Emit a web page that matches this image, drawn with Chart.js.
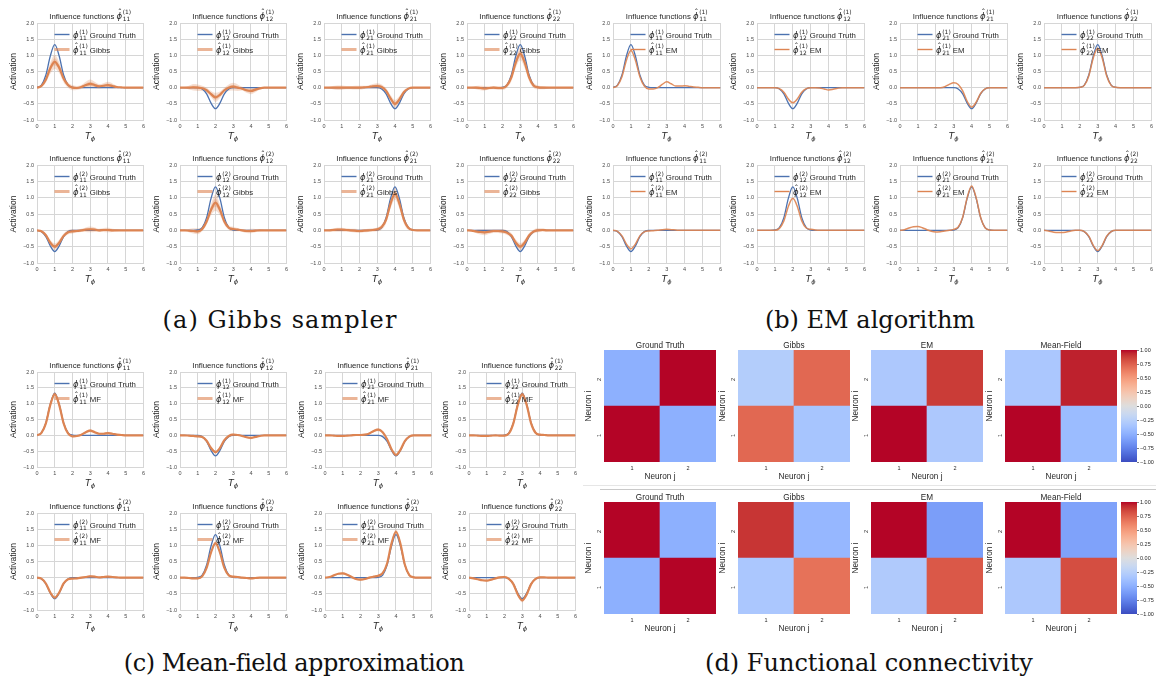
<!DOCTYPE html>
<html>
<head>
<meta charset="utf-8">
<title>Influence functions and functional connectivity</title>
<script src="https://cdn.jsdelivr.net/npm/chart.js@4.4.1/dist/chart.umd.min.js"></script>
<style>
  html, body { margin: 0; padding: 0; background: #fff; }
  body { position: relative; width: 1156px; height: 681px; overflow: hidden; }
  canvas { position: absolute; }
  .caption { position: absolute; font-family: "DejaVu Serif", serif; font-size: 24px; color: #111;
             white-space: nowrap; transform: translate(-50%, -50%); }
  .rule { position: absolute; height: 1px; }
</style>
</head>
<body>
<div class="caption" style="left:280px; top:320px; letter-spacing:1.1px">(a) Gibbs sampler</div>
<div class="caption" style="left:870px; top:320px">(b) EM algorithm</div>
<div class="caption" style="left:294px; top:663px; letter-spacing:-0.5px">(c) Mean-field approximation</div>
<div class="caption" style="left:869px; top:663px">(d) Functional connectivity</div>
<div class="rule" style="left:583px; top:485px; width:573px; background:#e6e6e6"></div>
<div class="rule" style="left:600px; top:489px; width:556px; background:#c9c9c9"></div>
<script>
// ---------- grids and ticks ----------
const tGrid = [0, 0.25, 0.5, 0.75, 1, 1.25, 1.5, 1.75, 2, 2.25, 2.5, 2.75, 3, 3.25, 3.5, 3.75, 4, 4.25, 4.5, 4.75, 5, 5.25, 5.5, 5.75, 6];
const xTicks = [0, 1, 2, 3, 4, 5, 6];
const yTicks = [-1, -0.5, 0, 0.5, 1, 1.5, 2];
const barTicks = [-1, -0.75, -0.5, -0.25, 0, 0.25, 0.5, 0.75, 1];
const neuronLabels = ['1', '2'];
const kernelIdx = ['11', '12', '21', '22'];

// ---------- ground-truth influence functions (neuron 1, neuron 2) ----------
const truth_1_11 = [0.01,0.08,0.39,0.98,1.33, 0.98,0.39,0.08,0.01,0, 0,0,0,0,0, 0,0,0,0,0, 0,0,0,0,0];
const truth_1_12 = [0,0,0,0,0, -0.04,-0.19,-0.48,-0.65,-0.48, -0.19,-0.04,0,0,0, 0,0,0,0,0, 0,0,0,0,0];
const truth_1_21 = [0,0,0,0,0, 0,0,0,0,0, 0,0,0,-0.04,-0.19, -0.48,-0.65,-0.48,-0.19,-0.04, 0,0,0,0,0];
const truth_1_22 = [0,0,0,0,0, 0,0,0,0.01,0.08, 0.39,0.98,1.33,0.98,0.39, 0.08,0.01,0,0,0, 0,0,0,0,0];
const truth_2_11 = [0,-0.04,-0.19,-0.48,-0.65, -0.48,-0.19,-0.04,0,0, 0,0,0,0,0, 0,0,0,0,0, 0,0,0,0,0];
const truth_2_12 = [0,0,0,0,0.01, 0.08,0.39,0.98,1.33,0.98, 0.39,0.08,0.01,0,0, 0,0,0,0,0, 0,0,0,0,0];
const truth_2_21 = [0,0,0,0,0, 0,0,0,0,0, 0,0,0.01,0.08,0.39, 0.98,1.33,0.98,0.39,0.08, 0.01,0,0,0,0];
const truth_2_22 = [0,0,0,0,0, 0,0,0,0,-0.04, -0.19,-0.48,-0.65,-0.48,-0.19, -0.04,0,0,0,0, 0,0,0,0,0];

// ---------- Gibbs sampler: posterior mean and spread of samples ----------
const gibbs_1_11   = [0,0.05,0.25,0.6,0.8, 0.62,0.28,0.08,0,-0.01, 0.02,0.08,0.12,0.08,0.04, 0.06,0.08,0.05,0.02,0.01, 0,0,0,0,0];
const gibbsSd_1_11 = [0,0.03,0.1,0.17,0.22, 0.17,0.12,0.08,0.08,0.06, 0.06,0.1,0.13,0.1,0.07, 0.08,0.1,0.08,0.04,0.01, 0,0,0,0,0];
const gibbs_1_12   = [0,0,0,0.01,0, -0.02,-0.08,-0.2,-0.3,-0.22, -0.08,0,0.03,0,-0.03, -0.08,-0.1,-0.06,-0.02,0, 0,0,0,0,0];
const gibbsSd_1_12 = [0,0.02,0.06,0.1,0.1, 0.08,0.08,0.1,0.14,0.1, 0.08,0.1,0.12,0.1,0.06, 0.08,0.1,0.08,0.04,0.01, 0,0,0,0,0];
const gibbs_1_21   = [0,0,0,0,0, 0,0,0,0,0.01, 0.02,0.04,0.05,0.02,-0.1, -0.33,-0.5,-0.36,-0.14,-0.03, 0,0,0,0,0];
const gibbsSd_1_21 = [0,0.02,0.05,0.07,0.07, 0.05,0.05,0.06,0.06,0.05, 0.05,0.07,0.09,0.08,0.08, 0.1,0.12,0.1,0.07,0.02, 0,0,0,0,0];
const gibbs_1_22   = [0,0,0,-0.01,-0.02, -0.01,0,-0.01,-0.01,0.07, 0.32,0.78,1.05,0.78,0.32, 0.07,0.01,0,0,0, 0,0,0,0,0];
const gibbsSd_1_22 = [0,0.02,0.05,0.07,0.07, 0.05,0.05,0.06,0.06,0.07, 0.12,0.17,0.2,0.17,0.12, 0.08,0.06,0.05,0.03,0.01, 0,0,0,0,0];
const gibbs_2_11   = [0,-0.03,-0.15,-0.38,-0.5, -0.38,-0.17,-0.06,-0.03,-0.02, 0,0.02,0.03,0.02,0, 0.01,0.01,0,0,0, 0,0,0,0,0];
const gibbsSd_2_11 = [0,0.02,0.06,0.09,0.1, 0.09,0.07,0.07,0.07,0.05, 0.05,0.07,0.09,0.07,0.05, 0.06,0.07,0.05,0.03,0.01, 0,0,0,0,0];
const gibbs_2_12   = [0,0,-0.01,-0.02,-0.03, 0.04,0.27,0.63,0.85,0.63, 0.27,0.08,0.04,0.02,0, -0.02,-0.02,-0.01,0,0, 0,0,0,0,0];
const gibbsSd_2_12 = [0,0.02,0.05,0.08,0.09, 0.07,0.1,0.17,0.25,0.17, 0.1,0.07,0.07,0.05,0.04, 0.06,0.07,0.05,0.03,0.01, 0,0,0,0,0];
const gibbs_2_21   = [0,0,0.01,0.02,0.02, 0.01,0,-0.01,-0.02,-0.01, 0,0.01,0.03,0.1,0.33, 0.82,1.12,0.82,0.33,0.08, 0.01,0,0,0,0];
const gibbsSd_2_21 = [0,0.02,0.05,0.06,0.06, 0.05,0.05,0.06,0.06,0.05, 0.05,0.05,0.06,0.08,0.12, 0.16,0.18,0.16,0.12,0.06, 0.01,0,0,0,0];
const gibbs_2_22   = [0,-0.01,-0.03,-0.05,-0.06, -0.04,-0.02,-0.02,-0.03,-0.07, -0.16,-0.38,-0.5,-0.38,-0.16, -0.04,0,0.01,0,0, 0,0,0,0,0];
const gibbsSd_2_22 = [0,0.02,0.05,0.08,0.09, 0.07,0.06,0.06,0.07,0.07, 0.08,0.1,0.11,0.1,0.08, 0.06,0.06,0.05,0.03,0.01, 0,0,0,0,0];

// ---------- EM point estimates ----------
const em_1_11 = [0,0.07,0.34,0.85,1.15, 0.85,0.34,0.05,-0.04,-0.04, 0,0.1,0.18,0.12,0.05, 0.05,0.06,0.04,0.02,0.01, 0,0,0,0,0];
const em_1_12 = [0,0,0,0,0, -0.03,-0.14,-0.35,-0.47,-0.35, -0.14,-0.03,0,0,-0.01, -0.04,-0.07,-0.05,-0.02,0, 0,0,0,0,0];
const em_1_21 = [0,0,0,0,0, 0,0,0,0,0, 0.03,0.1,0.15,0.1,-0.1, -0.42,-0.6,-0.45,-0.18,-0.04, 0,0,0,0,0];
const em_1_22 = [0,0,0,0,0, 0,0,0,0.01,0.07, 0.36,0.92,1.22,0.92,0.36, 0.07,0.01,0,0,0, 0,0,0,0,0];
const em_2_11 = [0,-0.03,-0.17,-0.42,-0.57, -0.42,-0.17,-0.05,-0.02,-0.01, 0,0.02,0.03,0.02,0.01, 0,0,0,0,0, 0,0,0,0,0];
const em_2_12 = [0,0,0,0,0, 0.06,0.29,0.73,0.98,0.73, 0.29,0.07,0.03,0.01,0, 0,0,0,0,0, 0,0,0,0,0];
const em_2_21 = [0,0.02,0.07,0.11,0.12, 0.08,0.02,-0.03,-0.05,-0.04, -0.02,0,0.03,0.1,0.4, 1,1.36,1,0.4,0.08, 0.01,0,0,0,0];
const em_2_22 = [0,-0.02,-0.05,-0.07,-0.07, -0.05,-0.02,0,0,-0.04, -0.18,-0.46,-0.62,-0.46,-0.18, -0.04,0,0,0,0, 0,0,0,0,0];

// ---------- mean-field: variational mean and spread ----------
const mf_1_11   = [0,0.08,0.38,0.96,1.3, 0.96,0.38,0.06,-0.03,-0.02, 0.02,0.1,0.15,0.1,0.05, 0.05,0.07,0.05,0.02,0.01, 0,0,0,0,0];
const mfSd_1_11 = [0,0.01,0.03,0.05,0.07, 0.05,0.04,0.04,0.04,0.03, 0.03,0.04,0.05,0.04,0.03, 0.03,0.04,0.03,0.02,0.01, 0,0,0,0,0];
const mf_1_12   = [0,0,-0.01,-0.02,-0.03, -0.05,-0.17,-0.4,-0.53,-0.4, -0.15,-0.02,0.02,0.01,-0.02, -0.06,-0.08,-0.05,-0.02,0, 0,0,0,0,0];
const mfSd_1_12 = [0,0.01,0.02,0.03,0.04, 0.03,0.03,0.04,0.05,0.04, 0.03,0.03,0.04,0.03,0.02, 0.03,0.04,0.03,0.02,0.01, 0,0,0,0,0];
const mf_1_21   = [0,0,-0.01,-0.02,-0.02, -0.01,0,0.01,0.01,0.02, 0.06,0.14,0.18,0.1,-0.12, -0.44,-0.62,-0.46,-0.18,-0.04, 0,0,0,0,0];
const mfSd_1_21 = [0,0.01,0.02,0.03,0.03, 0.02,0.02,0.02,0.03,0.03, 0.03,0.04,0.05,0.04,0.04, 0.04,0.05,0.04,0.03,0.01, 0,0,0,0,0];
const mf_1_22   = [0,0,-0.01,-0.02,-0.02, -0.01,0,-0.01,-0.01,0.06, 0.38,0.96,1.3,0.96,0.38, 0.08,0.02,0.01,0,0, 0,0,0,0,0];
const mfSd_1_22 = [0,0.01,0.02,0.03,0.03, 0.02,0.02,0.02,0.03,0.03, 0.04,0.05,0.07,0.05,0.04, 0.03,0.03,0.02,0.01,0.01, 0,0,0,0,0];
const mf_2_11   = [0,-0.03,-0.18,-0.46,-0.62, -0.46,-0.18,-0.05,-0.03,-0.02, 0,0.02,0.04,0.03,0.01, 0.02,0.03,0.02,0.01,0, 0,0,0,0,0];
const mfSd_2_11 = [0,0.01,0.02,0.04,0.05, 0.04,0.03,0.03,0.03,0.03, 0.03,0.03,0.04,0.03,0.02, 0.03,0.03,0.02,0.01,0.01, 0,0,0,0,0];
const mf_2_12   = [0,0,-0.01,-0.02,-0.02, 0.04,0.3,0.78,1.07,0.78, 0.3,0.07,0.03,0.02,0, -0.01,-0.02,-0.01,0,0, 0,0,0,0,0];
const mfSd_2_12 = [0,0.01,0.02,0.03,0.03, 0.02,0.03,0.05,0.06,0.05, 0.03,0.03,0.03,0.03,0.02, 0.02,0.03,0.02,0.01,0.01, 0,0,0,0,0];
const mf_2_21   = [0,0.02,0.07,0.12,0.13, 0.09,0.02,-0.04,-0.06,-0.04, 0,0.03,0.06,0.14,0.44, 1.06,1.42,1.05,0.4,0.08, 0.01,0,0,0,0];
const mfSd_2_21 = [0,0.01,0.02,0.03,0.04, 0.03,0.03,0.03,0.04,0.03, 0.03,0.03,0.04,0.05,0.05, 0.06,0.08,0.06,0.05,0.02, 0,0,0,0,0];
const mf_2_22   = [0,-0.02,-0.05,-0.08,-0.09, -0.06,-0.02,0.01,0.02,-0.04, -0.2,-0.52,-0.7,-0.52,-0.2, -0.04,0.01,0.01,0,0, 0,0,0,0,0];
const mfSd_2_22 = [0,0.01,0.02,0.03,0.04, 0.03,0.03,0.03,0.04,0.03, 0.03,0.05,0.07,0.05,0.03, 0.03,0.03,0.02,0.01,0.01, 0,0,0,0,0];

// ---------- functional connectivity: rows = neuron i (1, 2), cols = neuron j (1, 2) ----------
const connTruthA = [[1.0, -0.5], [-0.5, 1.0]];
const connGibbsA = [[0.72, -0.35], [-0.28, 0.72]];
const connEmA    = [[1.0, -0.32], [-0.32, 0.88]];
const connMfA    = [[1.0, -0.42], [-0.33, 0.95]];
const connTruthB = [[-0.5, 1.0], [1.0, -0.5]];
const connGibbsB = [[-0.33, 0.68], [0.9, -0.45]];
const connEmB    = [[-0.3, 0.78], [1.0, -0.6]];
const connMfB    = [[-0.32, 0.82], [1.0, -0.58]];
const heatTitles = ['Ground Truth', 'Gibbs', 'EM', 'Mean-Field'];

// ---------- styling ----------
const SANS = '"Liberation Sans", Arial, Helvetica, sans-serif';
const MATH = '"DejaVu Sans", sans-serif';
const INK = '#262626';
const TICK_INK = '#4a4a4a';
const GRID = '#d6d6d6';
const BLUE = '#4c72b0';
const ORANGE = '#dd8452';

Chart.defaults.font.family = SANS;
Chart.defaults.color = INK;

// Moreland cool-warm diverging map, 33 control points
const COOLWARM = [
  [59,76,192],[68,90,204],[77,104,215],[87,117,225],[98,130,234],[108,142,241],[119,154,247],[130,165,251],
  [141,176,254],[152,185,255],[163,194,255],[174,201,253],[184,208,249],[194,213,244],[204,217,238],[213,219,230],
  [221,221,221],[229,216,209],[236,211,197],[241,204,185],[245,196,173],[247,187,160],[247,177,148],[247,166,135],
  [244,154,123],[241,141,111],[236,127,99],[229,112,88],[222,96,77],[213,80,66],[203,62,56],[192,40,47],[180,4,38]
];
function coolwarm(v) {
  const t = Math.max(0, Math.min(1, (v + 1) / 2)) * 32;
  const k = Math.min(31, Math.floor(t));
  const f = t - k;
  const a = COOLWARM[k], b = COOLWARM[k + 1];
  return 'rgb(' + a.map((c, i) => Math.round(c + (b[i] - c) * f)).join(',') + ')';
}

function addCanvas(x, y, w, h) {
  const cv = document.createElement('canvas');
  cv.width = Math.round(w); cv.height = Math.round(h);
  Object.assign(cv.style, { left: Math.round(x) + 'px', top: Math.round(y) + 'px',
                            width: cv.width + 'px', height: cv.height + 'px' });
  document.body.appendChild(cv);
  return cv;
}

const minusFmt = (v, d) => (v < -1e-9 ? '\u2212' : '') + Math.abs(v).toFixed(d);

// phi with optional hat, superscript and subscript; returns the drawn width
function mathPhi(ctx, x, y, size, sup, sub, hat, draw) {
  ctx.save();
  ctx.textAlign = 'left';
  ctx.textBaseline = 'alphabetic';
  ctx.fillStyle = INK;
  ctx.font = 'italic ' + size + 'px ' + MATH;
  const w = ctx.measureText('\u03d5').width;
  const s = size * 0.7;
  ctx.font = s + 'px ' + MATH;
  const ws = Math.max(ctx.measureText(sup).width, ctx.measureText(sub).width);
  const gap = size * 0.08;
  if (draw) {
    ctx.font = 'italic ' + size + 'px ' + MATH;
    ctx.fillText('\u03d5', x, y);
    if (hat) {
      ctx.font = size + 'px ' + MATH;
      ctx.textAlign = 'center';
      ctx.fillText('\u02c6', x + w * 0.62, y - size * 0.3);
      ctx.textAlign = 'left';
    }
    ctx.font = s + 'px ' + MATH;
    ctx.fillText(sup, x + w + gap, y - size * (hat ? 0.5 : 0.44));
    ctx.fillText(sub, x + w + gap, y + size * 0.3);
  }
  ctx.restore();
  return w + gap + ws;
}

// titles, legend and axis labels of one influence-function panel
const kernelDecor = {
  id: 'kernelDecor',
  afterDraw(chart, args, o) {
    const { ctx, chartArea: a } = chart;
    const cx = (a.left + a.right) / 2;
    ctx.save();
    // title
    ctx.font = '7.8px ' + SANS;
    ctx.fillStyle = INK;
    ctx.textBaseline = 'alphabetic';
    const pre = 'Influence functions ';
    const wPre = ctx.measureText(pre).width;
    const wM = mathPhi(ctx, 0, 0, 8.5, o.sup, o.sub, true, false);
    const x0 = cx - (wPre + wM) / 2;
    ctx.fillText(pre, x0, a.top - 4.5);
    mathPhi(ctx, x0 + wPre, a.top - 4.5, 8.5, o.sup, o.sub, true, true);
    // legend
    const entries = [
      { y: a.top + 11.5, color: BLUE, width: 1.4, hat: false, label: ' Ground Truth' },
      { y: a.top + 26.5, color: o.band ? 'rgba(221,132,82,0.6)' : ORANGE, width: o.band ? 3 : 1.4, hat: true, label: ' ' + o.method }
    ];
    for (const e of entries) {
      ctx.strokeStyle = e.color;
      ctx.lineWidth = e.width;
      ctx.beginPath();
      ctx.moveTo(a.left + 17.5, e.y);
      ctx.lineTo(a.left + 32.5, e.y);
      ctx.stroke();
      const wm = mathPhi(ctx, a.left + 36, e.y + 3, 8.5, o.sup, o.sub, e.hat, true);
      ctx.font = '7.8px ' + SANS;
      ctx.fillStyle = INK;
      ctx.textAlign = 'left';
      ctx.fillText(e.label, a.left + 36 + wm, e.y + 3);
    }
    // y label
    ctx.save();
    ctx.translate(a.left - 23.5, (a.top + a.bottom) / 2);
    ctx.rotate(-Math.PI / 2);
    ctx.font = '8.5px ' + SANS;
    ctx.textAlign = 'center';
    ctx.textBaseline = 'middle';
    ctx.fillText('Activation', 0, 0);
    ctx.restore();
    // x label T_phi
    ctx.font = 'italic 9px ' + MATH;
    const wT = ctx.measureText('T').width;
    ctx.font = 'italic 6.5px ' + MATH;
    const wP = ctx.measureText('\u03d5').width;
    const tx = cx - (wT + wP) / 2;
    ctx.font = 'italic 9px ' + MATH;
    ctx.textAlign = 'left';
    ctx.fillText('T', tx, a.bottom + 18.5);
    ctx.font = 'italic 6.5px ' + MATH;
    ctx.fillText('\u03d5', tx + wT, a.bottom + 20.5);
    ctx.restore();
  }
};

function makeKernelChart(left, top, w, h, sup, sub, truth, est, spread, method) {
  const PL = 40, PT = 26, PB = 22, PR = 4;
  const cv = addCanvas(left - PL, top - PT, PL + w + PR, PT + h + PB);
  const pts = arr => tGrid.map((t, i) => ({ x: t, y: arr[i] }));
  const datasets = [];
  if (spread) {
    // outer envelope of the samples, then a denser core around the mean
    datasets.push({ data: tGrid.map((t, i) => ({ x: t, y: est[i] - spread[i] })), borderWidth: 0, fill: false, order: 4 });
    datasets.push({ data: tGrid.map((t, i) => ({ x: t, y: est[i] + spread[i] })), borderWidth: 0, fill: '-1',
                    backgroundColor: 'rgba(221,132,82,0.26)', order: 4 });
    datasets.push({ data: tGrid.map((t, i) => ({ x: t, y: est[i] - spread[i] / 2 })), borderWidth: 0, fill: false, order: 3 });
    datasets.push({ data: tGrid.map((t, i) => ({ x: t, y: est[i] + spread[i] / 2 })), borderWidth: 0, fill: '-1',
                    backgroundColor: 'rgba(221,132,82,0.3)', order: 3 });
  }
  datasets.push({ data: pts(truth), borderColor: BLUE, borderWidth: 1.3, order: 2 });
  datasets.push({ data: pts(est), borderColor: spread ? ORANGE : 'rgba(221,132,82,0.92)', borderWidth: spread ? 2.2 : 1.5, order: 1 });
  new Chart(cv, {
    type: 'line',
    data: { datasets },
    options: {
      responsive: false, animation: false, devicePixelRatio: 1,
      layout: { padding: { top: PT, left: 0, right: PR, bottom: 0 } },
      elements: { point: { radius: 0 }, line: { cubicInterpolationMode: 'monotone' } },
      plugins: { legend: { display: false }, tooltip: { enabled: false },
                 kernelDecor: { sup, sub, method, band: !!spread } },
      scales: {
        x: { type: 'linear', min: 0, max: 6,
             afterBuildTicks: s => { s.ticks = xTicks.map(v => ({ value: v })); },
             ticks: { font: { size: 5.5 }, color: TICK_INK, padding: 3, maxRotation: 0, autoSkip: false,
                      callback: v => String(v) },
             grid: { color: GRID, drawTicks: false, lineWidth: 1 },
             border: { color: GRID },
             afterFit: s => { s.height = PB; } },
        y: { type: 'linear', min: -1, max: 2,
             afterBuildTicks: s => { s.ticks = yTicks.map(v => ({ value: v })); },
             ticks: { font: { size: 5.5 }, color: TICK_INK, padding: 3, autoSkip: false,
                      callback: v => minusFmt(v, 1) },
             grid: { color: GRID, drawTicks: false, lineWidth: 1 },
             border: { color: GRID },
             afterFit: s => { s.width = PL; } }
      }
    },
    plugins: [kernelDecor]
  });
}

// ---------- panels (a), (b), (c) ----------
const panels = [
  { method: 'Gibbs', lefts: [37, 180, 324, 467], tops: [23, 165], heights: [97, 98], width: 107,
    est: [[gibbs_1_11, gibbs_1_12, gibbs_1_21, gibbs_1_22], [gibbs_2_11, gibbs_2_12, gibbs_2_21, gibbs_2_22]],
    sd:  [[gibbsSd_1_11, gibbsSd_1_12, gibbsSd_1_21, gibbsSd_1_22], [gibbsSd_2_11, gibbsSd_2_12, gibbsSd_2_21, gibbsSd_2_22]] },
  { method: 'EM', lefts: [613, 757, 900, 1044], tops: [23, 165], heights: [97, 98], width: 108,
    est: [[em_1_11, em_1_12, em_1_21, em_1_22], [em_2_11, em_2_12, em_2_21, em_2_22]],
    sd: null },
  { method: 'MF', lefts: [37, 180, 325, 469], tops: [372, 513], heights: [95, 97], width: 107,
    est: [[mf_1_11, mf_1_12, mf_1_21, mf_1_22], [mf_2_11, mf_2_12, mf_2_21, mf_2_22]],
    sd:  [[mfSd_1_11, mfSd_1_12, mfSd_1_21, mfSd_1_22], [mfSd_2_11, mfSd_2_12, mfSd_2_21, mfSd_2_22]] }
];
const truths = [[truth_1_11, truth_1_12, truth_1_21, truth_1_22], [truth_2_11, truth_2_12, truth_2_21, truth_2_22]];

for (const p of panels) {
  for (let r = 0; r < 2; r++) {
    for (let c = 0; c < 4; c++) {
      makeKernelChart(p.lefts[c], p.tops[r], p.width, p.heights[r], '(' + (r + 1) + ')', kernelIdx[c],
                      truths[r][c], p.est[r][c], p.sd ? p.sd[r][c] : null, p.method);
    }
  }
}

// ---------- panel (d): connectivity heatmaps ----------
const heatDecor = {
  id: 'heatDecor',
  afterDraw(chart, args, o) {
    const { ctx, chartArea: a } = chart;
    ctx.save();
    ctx.font = '8.2px ' + SANS;
    ctx.fillStyle = INK;
    ctx.textAlign = 'center';
    ctx.textBaseline = 'alphabetic';
    ctx.fillText(o.text, (a.left + a.right) / 2, a.top - 2.5);
    ctx.restore();
  }
};

function makeHeatmap(left, top, size, title, M) {
  const PL = 20, PT = 14, PB = 20, PR = 2;
  const cv = addCanvas(left - PL, top - PT, PL + size + PR, PT + size + PB);
  new Chart(cv, {
    type: 'bar',
    data: {
      labels: neuronLabels,
      datasets: M.map((row, i) => ({
        label: 'neuron i = ' + neuronLabels[i],
        data: row.map(() => 1),
        backgroundColor: row.map(coolwarm),
        borderWidth: 0, barPercentage: 1, categoryPercentage: 1
      }))
    },
    options: {
      responsive: false, animation: false, devicePixelRatio: 1,
      layout: { padding: { top: PT, left: 0, right: PR, bottom: 0 } },
      plugins: { legend: { display: false }, tooltip: { enabled: false }, heatDecor: { text: title } },
      scales: {
        x: { stacked: true,
             ticks: { font: { size: 5.5 }, color: INK, padding: 3, maxRotation: 0 },
             grid: { display: false, drawTicks: false }, border: { display: false },
             title: { display: true, text: 'Neuron j', font: { size: 8.2 }, color: INK, padding: 0 },
             afterFit: s => { s.height = PB; } },
        y: { stacked: true, min: 0, max: 2,
             afterBuildTicks: s => { s.ticks = [{ value: 0.5 }, { value: 1.5 }]; },
             ticks: { font: { size: 5.5 }, color: INK, padding: 5, minRotation: 90, maxRotation: 90,
                      callback: v => neuronLabels[Math.floor(v)] },
             grid: { display: false, drawTicks: false }, border: { display: false },
             title: { display: true, text: 'Neuron i', font: { size: 8.2 }, color: INK, padding: 0 },
             afterFit: s => { s.width = PL; } }
      }
    },
    plugins: [heatDecor]
  });
}

function makeColorbar(left, top, w, h) {
  const PL = 4, PR = 18, PT = 5, PB = 5;
  const cv = addCanvas(left - PL, top - PT, PL + w + PR, PT + h + PB);
  new Chart(cv, {
    type: 'bar',
    data: {
      labels: [''],
      datasets: [{
        data: [[barTicks[0], barTicks[barTicks.length - 1]]],
        borderWidth: 0, barPercentage: 1, categoryPercentage: 1,
        backgroundColor: c => {
          const area = c.chart.chartArea;
          if (!area) return null;
          const g = c.chart.ctx.createLinearGradient(0, area.bottom, 0, area.top);
          COOLWARM.forEach((rgb, k) => g.addColorStop(k / 32, 'rgb(' + rgb.join(',') + ')'));
          return g;
        }
      }]
    },
    options: {
      responsive: false, animation: false, devicePixelRatio: 1,
      layout: { padding: { top: PT, left: PL, right: 0, bottom: PB } },
      plugins: { legend: { display: false }, tooltip: { enabled: false } },
      scales: {
        x: { display: false },
        y: { position: 'right', min: -1, max: 1,
             afterBuildTicks: s => { s.ticks = barTicks.map(v => ({ value: v })); },
             ticks: { font: { size: 5.5 }, color: INK, padding: 1, autoSkip: false, callback: v => minusFmt(v, 2) },
             grid: { drawOnChartArea: false, drawTicks: true, tickLength: 2, color: INK, lineWidth: 0.6 },
             border: { display: false },
             afterFit: s => { s.width = PR; } }
      }
    }
  });
}

const heatLefts = [604, 737.5, 871, 1004.5];
const heatTops = [350, 501.5];
const heatSize = 111.5;
const heatRows = [[connTruthA, connGibbsA, connEmA, connMfA], [connTruthB, connGibbsB, connEmB, connMfB]];
for (let r = 0; r < 2; r++) {
  for (let c = 0; c < 4; c++) {
    makeHeatmap(heatLefts[c], heatTops[r], heatSize, heatTitles[c], heatRows[r][c]);
  }
  makeColorbar(1121, heatTops[r], 16, heatSize);
}
</script>
</body>
</html>
